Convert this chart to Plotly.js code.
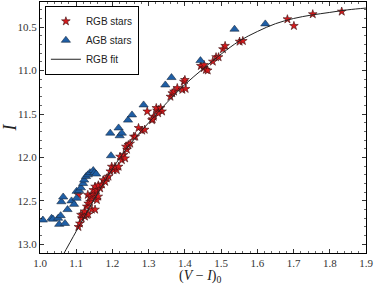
<!DOCTYPE html>
<html>
<head>
<meta charset="utf-8">
<script src="https://cdn.plot.ly/plotly-3.0.1.min.js"></script>
<style>html,body{margin:0;padding:0;background:#fff;}#chart{width:374px;height:285px;}</style>
</head>
<body>
<div id="chart"></div>
<script>
// RGB stars: colour (V-I)_0 and magnitude I
var rgbX = [1.106,1.110,1.115,1.113,1.119,1.124,1.129,1.133,1.123,1.129,1.133,1.138,1.143,1.152,1.132,1.138,1.143,1.147,1.152,1.157,1.161,1.106,1.147,1.157,1.166,1.152,1.161,1.171,1.175,1.180,1.184,1.189,
            1.194,1.203,1.212,1.198,1.207,1.217,1.226,1.221,1.231,1.235,1.240,1.237,1.244,1.249,1.259,1.263,1.272,1.282,1.289,1.309,1.314,1.296,1.323,1.328,1.321,1.333,1.337,1.326,1.311,
            1.360,1.365,1.370,1.379,1.393,1.402,1.397,1.400,1.444,1.452,1.458,1.463,1.453,1.477,1.486,1.493,1.505,1.511,1.551,1.560,1.683,1.701,1.753,1.833];
var rgbI = [12.80,12.76,12.70,12.66,12.655,12.68,12.66,12.655,12.62,12.565,12.53,12.51,12.60,12.60,12.43,12.45,12.47,12.43,12.41,12.49,12.45,12.43,12.375,12.375,12.355,12.335,12.32,12.31,12.26,12.28,12.24,12.22,
            12.16,12.145,12.145,12.106,12.106,12.106,12.03,11.99,11.97,12.01,11.91,11.875,11.856,11.84,11.76,11.76,11.66,11.69,11.68,11.57,11.53,11.47,11.46,11.45,11.43,11.43,11.47,11.49,11.56,
            11.30,11.26,11.24,11.20,11.22,11.21,11.127,11.107,10.946,10.97,10.99,10.998,10.934,10.896,10.845,10.845,10.753,10.715,10.666,10.658,10.408,10.485,10.35,10.32];

// AGB stars
var agbX = [1.008,1.032,1.036,1.050,1.057,1.053,1.069,1.059,1.064,1.076,1.087,1.094,1.101,1.101,1.108,1.113,1.119,1.122,1.127,1.132,1.138,1.147,1.150,1.155,
            1.196,1.194,1.217,1.220,1.226,1.243,1.254,1.286,1.346,1.363,1.443,1.537,1.622];
var agbI = [12.72,12.70,12.71,12.70,12.67,12.77,12.76,12.51,12.455,12.60,12.50,12.54,12.47,12.39,12.38,12.35,12.30,12.26,12.22,12.20,12.175,12.15,12.175,12.19,
            11.98,11.72,11.66,11.75,11.72,11.57,11.51,11.395,11.165,11.08,10.885,10.523,10.462];

// RGB fit, sampled along the drawn curve
var fitX = [1.06,1.10,1.15,1.20,1.25,1.30,1.35,1.40,1.45,1.50,1.55,1.60,1.65,1.70,1.75,1.80,1.85,1.90];
var fitI = [13.15,12.85,12.48,12.13,11.84,11.60,11.37,11.16,10.98,10.81,10.66,10.55,10.46,10.40,10.36,10.33,10.30,10.28];

var xTitle = '(<i>V</i> − <i>I</i>)<sub>0</sub>';
var yTitle = '<i>I</i>';

var traces = [
  {x: rgbX, y: rgbI, mode: 'markers', type: 'scatter', name: 'RGB stars',
   marker: {symbol: 'star', size: 6.5, color: '#d7191c', line: {color: '#3a1010', width: 0.6}}},
  {x: agbX, y: agbI, mode: 'markers', type: 'scatter', name: 'AGB stars',
   marker: {symbol: 'triangle-up', size: 8, color: '#1f5fa6', line: {color: '#1a2a40', width: 0.6}}},
  {x: fitX, y: fitI, mode: 'lines', type: 'scatter', name: 'RGB fit',
   line: {color: '#222222', width: 1, shape: 'spline'}}
];

var axisCommon = {
  showgrid: false, zeroline: false, showline: true, linecolor: '#000', linewidth: 1,
  mirror: 'allticks', ticks: 'inside', ticklen: 4, tickwidth: 0.8, tickcolor: '#000',
  tickfont: {family: 'Liberation Serif, DejaVu Serif, serif', size: 11, color: '#333'}
};

var layout = {
  width: 374, height: 285,
  margin: {l: 40, r: 8, t: 2, b: 32},
  paper_bgcolor: '#fff', plot_bgcolor: '#fff',
  showlegend: true,
  legend: {x: 0.015, y: 0.985, xanchor: 'left', yanchor: 'top',
           bgcolor: '#fff', bordercolor: '#000', borderwidth: 1,
           font: {family: 'Liberation Sans, Arial, sans-serif', size: 10, color: '#222'},
           tracegroupgap: 0, itemwidth: 30},
  xaxis: Object.assign({}, axisCommon, {
    range: [1.0, 1.9], dtick: 0.1, tick0: 1.0, tickformat: '.1f',
    minor: {dtick: 0.02, ticks: 'inside', ticklen: 2, tickcolor: '#000', tickwidth: 0.6}
  }),
  yaxis: Object.assign({}, axisCommon, {
    range: [13.1, 10.21], dtick: 0.5, tick0: 10.5, tickformat: '.1f',
    minor: {dtick: 0.1, ticks: 'inside', ticklen: 2, tickcolor: '#000', tickwidth: 0.6},
    title: {text: yTitle, standoff: 6,
            font: {family: 'Liberation Serif, DejaVu Serif, serif', size: 18, color: '#222'}}
  }),
  annotations: [{
    text: xTitle, xref: 'paper', yref: 'paper', x: 0.49, y: 0,
    xanchor: 'center', yanchor: 'bottom', yshift: -33, borderpad: 0, showarrow: false,
    font: {family: 'Liberation Serif, DejaVu Serif, serif', size: 14, color: '#222'}
  }]
};

Plotly.newPlot('chart', traces, layout, {displayModeBar: false, staticPlot: true});
</script>
</body>
</html>
